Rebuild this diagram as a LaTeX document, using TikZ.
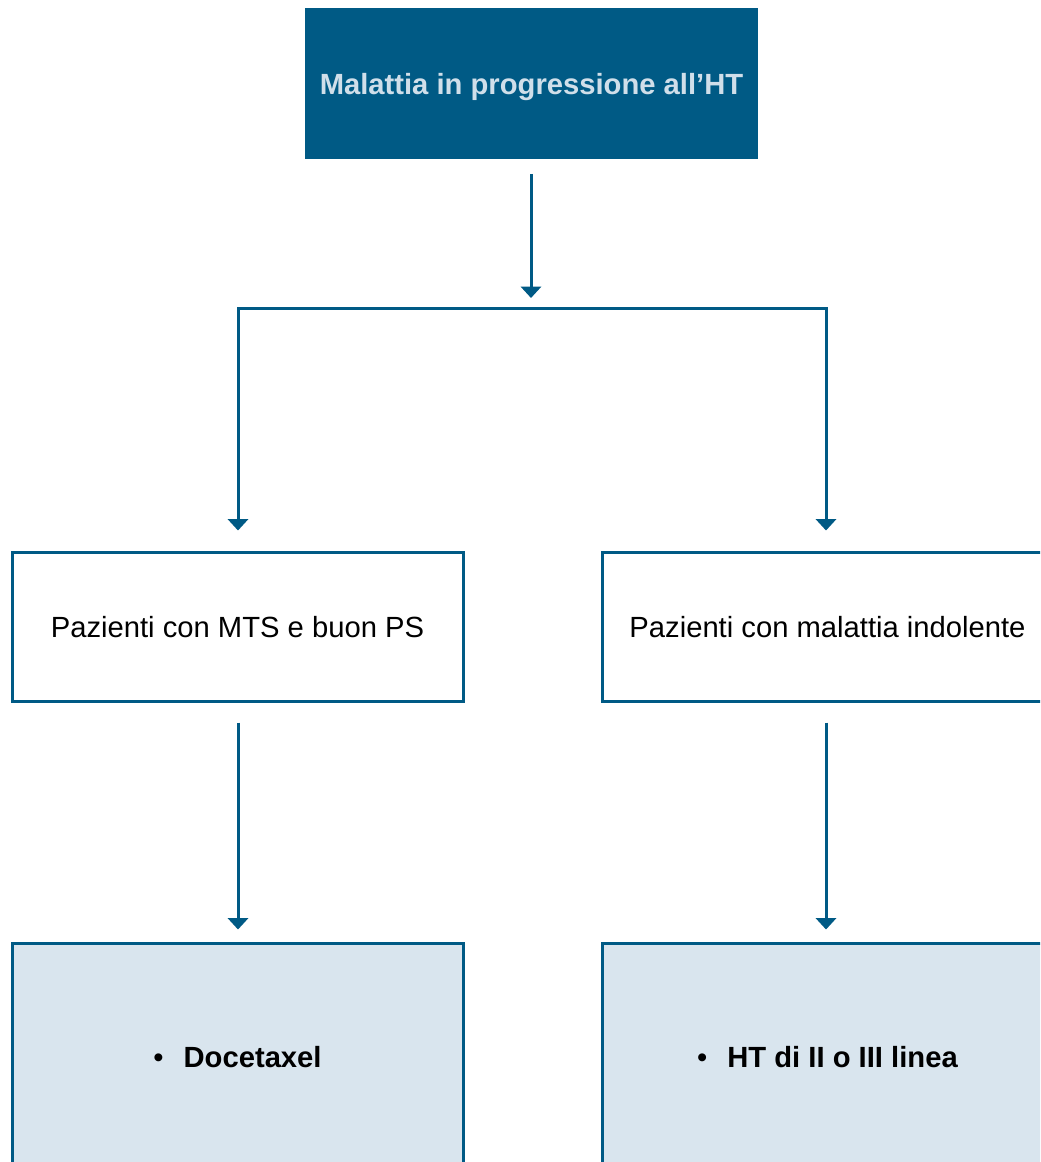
\documentclass[tikz,border=0pt]{standalone}
\usepackage{fontspec}
\setmainfont{Liberation Sans}
\usetikzlibrary{arrows.meta}
\definecolor{dkblue}{HTML}{005A85}
\definecolor{ltfill}{HTML}{D9E5EE}
\definecolor{titletxt}{HTML}{D0DFEA}
\tikzset{
  box/.style={draw=dkblue, line width=2.25pt, rectangle, inner sep=0pt, align=center,
    text depth=0pt, font=\fontsize{21.9}{26}\selectfont, text=black},
  titlebox/.style={box, draw=none, fill=dkblue, text=titletxt, font=\fontsize{21.9}{26}\selectfont\bfseries,
    minimum width=339.75pt, minimum height=113.25pt},
  midbox/.style={box, fill=white, minimum width=338.25pt, minimum height=111.75pt},
  lowbox/.style={box, fill=ltfill, minimum width=338.25pt, minimum height=171pt},
  conn/.style={draw=dkblue, line width=2.25pt},
  arr/.style={conn, -{Triangle[width=15pt,length=8.5pt]}},
}
\begin{document}
\begin{tikzpicture}[x=0.75pt,y=-0.75pt]
\clip (0,0) rectangle (1040,1162);
\useasboundingbox (0,0) rectangle (1040,1162);
\fill[white] (0,0) rectangle (1040,1162);

\node[titlebox] (top) at (531.5,84) {Malattia in progressione all’HT};
\node[midbox] (m1) at (237.5,626.5) {Pazienti con MTS e buon PS};
\node[midbox] (m2) at (827.5,626.5) {Pazienti con malattia indolente};
\node[lowbox] (b1) at (237.5,1057) {\textbullet\hspace{15pt}\textbf{Docetaxel}};
\node[lowbox] (b2) at (827.5,1057) {\textbullet\hspace{15pt}\textbf{HT di II o III linea}};

\coordinate (junc) at (531,298);
\coordinate (brL) at (238,308);
\coordinate (brR) at (826,308);

\draw[arr, shorten <=9.75pt] (top.south -| junc) -- (junc);
\draw[conn, line cap=rect] (brL) -- (brR);
\draw[arr, shorten >=15pt] (brL) -- (brL |- m1.north);
\draw[arr, shorten >=15pt] (brR) -- (brR |- m2.north);
\draw[arr, shorten <=15pt, shorten >=9pt] (m1.south -| brL) -- (b1.north -| brL);
\draw[arr, shorten <=15pt, shorten >=9pt] (m2.south -| brR) -- (b2.north -| brR);
\end{tikzpicture}
\end{document}
